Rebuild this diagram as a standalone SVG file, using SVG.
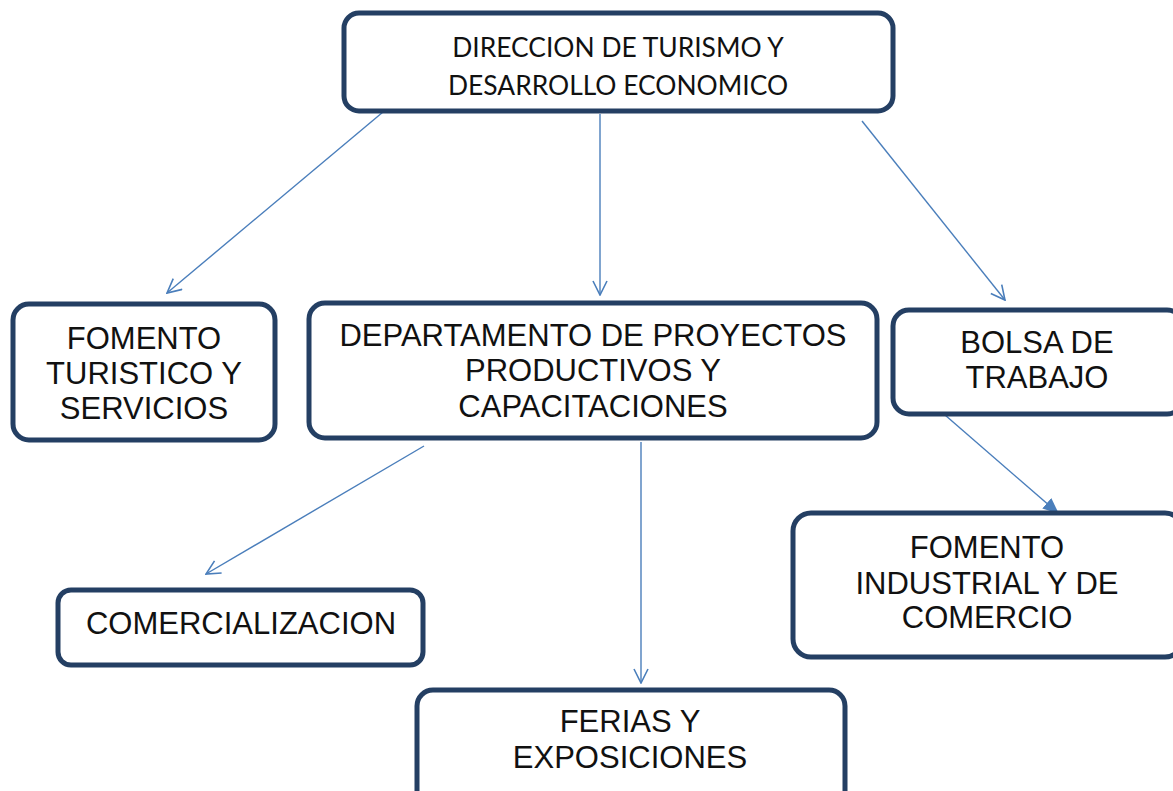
<svg xmlns="http://www.w3.org/2000/svg" width="1173" height="791" viewBox="0 0 1173 791">
<style>
.box{fill:#fff;stroke:#243f63;stroke-width:5}
.t{font-family:"Liberation Sans",Arial,sans-serif;font-size:31px;fill:#111;text-anchor:middle}
.tc{font-family:Lato,"Liberation Sans",sans-serif;font-size:26.4px;fill:#111;text-anchor:middle}
.c{stroke:#4a7ebb;stroke-width:1.4;fill:none}
</style>
<defs>
<marker id="open" viewBox="0 0 16 16" refX="15" refY="8" markerWidth="16" markerHeight="16" markerUnits="userSpaceOnUse" orient="auto">
<path d="M1,1 L15,8 L1,15" fill="none" stroke="#4a7ebb" stroke-width="1.6"/>
</marker>
<marker id="solid" viewBox="0 0 14 14" refX="13" refY="7" markerWidth="16" markerHeight="16" markerUnits="userSpaceOnUse" orient="auto">
<path d="M0,1 L14,7 L0,13 Z" fill="#4a7ebb"/>
</marker>
</defs>
<rect width="1173" height="791" fill="#fff"/>
<g id="connectors">
<line class="c" x1="383" y1="112" x2="167" y2="293" marker-end="url(#open)"/>
<line class="c" x1="600" y1="114" x2="600" y2="295" marker-end="url(#open)"/>
<line class="c" x1="862" y1="121" x2="1005" y2="300" marker-end="url(#open)"/>
<line class="c" x1="424" y1="446" x2="206" y2="574" marker-end="url(#open)"/>
<line class="c" x1="641" y1="442" x2="641" y2="683" marker-end="url(#open)"/>
<line class="c" x1="945" y1="415" x2="1058" y2="513" marker-end="url(#solid)"/>
</g>
<g id="direccion">
<rect class="box" x="344" y="13" width="549" height="98" rx="15"/>
<text class="tc" x="618" y="57">DIRECCION DE TURISMO Y</text>
<text class="tc" x="618" y="95">DESARROLLO ECONOMICO</text>
</g>
<g id="fomento-turistico">
<rect class="box" x="13" y="304" width="262" height="136" rx="16"/>
<text class="t" x="144" y="349">FOMENTO</text>
<text class="t" x="144" y="384">TURISTICO Y</text>
<text class="t" x="144" y="419">SERVICIOS</text>
</g>
<g id="departamento">
<rect class="box" x="309" y="303" width="568" height="135" rx="16"/>
<text class="t" x="593" y="346">DEPARTAMENTO DE PROYECTOS</text>
<text class="t" x="593" y="381">PRODUCTIVOS Y</text>
<text class="t" x="593" y="417">CAPACITACIONES</text>
</g>
<g id="bolsa">
<rect class="box" x="893" y="310" width="290" height="104" rx="16"/>
<text class="t" x="1037" y="353">BOLSA DE</text>
<text class="t" x="1037" y="388">TRABAJO</text>
</g>
<g id="fomento-industrial">
<rect class="box" x="793" y="513" width="390" height="144" rx="18"/>
<text class="t" x="987" y="558">FOMENTO</text>
<text class="t" x="987" y="594">INDUSTRIAL Y DE</text>
<text class="t" x="987" y="628">COMERCIO</text>
</g>
<g id="comercializacion">
<rect class="box" x="58" y="590" width="365" height="75" rx="13"/>
<text class="t" x="241" y="634">COMERCIALIZACION</text>
</g>
<g id="ferias">
<rect class="box" x="417" y="690" width="428" height="120" rx="16"/>
<text class="t" x="630" y="732">FERIAS Y</text>
<text class="t" x="630" y="768">EXPOSICIONES</text>
</g>
</svg>
